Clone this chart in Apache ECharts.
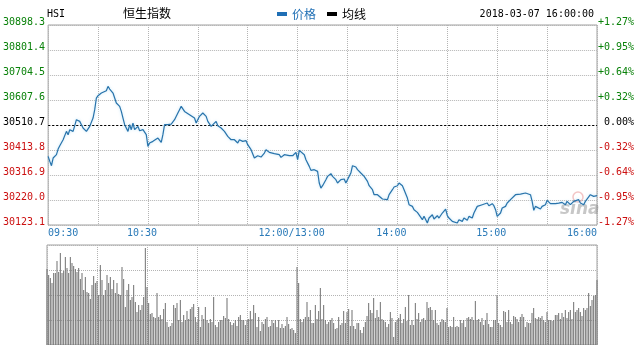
<!DOCTYPE html>
<html><head><meta charset="utf-8">
<script src="https://cdn.jsdelivr.net/npm/echarts@6/dist/echarts.min.js"></script>
<style>html,body{margin:0;padding:0;background:#fff}#c{width:639px;height:345px}</style>
</head><body><div id="c"></div>
<script>
// ---- data ----
const titleCode = 'HSI';
const titleName = '恒生指数';
const dateText = '2018-03-07 16:00:00';
const prevClose = 30510.7;
const priceMin = 30123.1;
const priceMax = 30898.3;
const priceTicks = ['30123.1','30220.0','30316.9','30413.8','30510.7','30607.6','30704.5','30801.4','30898.3'];
const pctTicks = ['-1.27%','-0.95%','-0.64%','-0.32%',' 0.00%','+0.32%','+0.64%','+0.95%','+1.27%'];
const xTickMinutes = [0, 60, 150, 210, 270, 330];
const xTickLabels = ['09:30', '10:30', '12:00/13:00', '14:00', '15:00', '16:00'];

const priceMinutes = [0,1,2,3,5,6,7,8,9,11,12,13,15,16,17,19,20,21,23,25,26,27,28,29,30,31,32,33,35,36,37,38,39,40,41,43,44,45,46,48,49,50,51,52,54,55,57,59,60,61,63,64,66,67,68,69,70,72,74,76,78,79,80,82,83,85,86,88,89,91,92,93,95,96,98,99,101,102,104,106,108,110,112,114,115,117,119,120,122,124,126,128,130,131,133,134,136,137,139,140,142,143,145,147,149,150,151,152,154,155,157,158,160,162,163,164,165,167,168,170,171,173,174,176,177,178,179,180,182,183,185,186,188,189,190,192,193,195,196,198,199,201,202,204,205,207,208,210,211,213,214,216,217,219,220,222,223,225,226,228,229,231,232,234,235,237,239,240,241,243,244,246,247,249,250,252,253,255,256,258,259,261,262,264,265,267,268,269,270,272,273,275,276,278,279,281,282,284,285,287,288,290,291,292,293,294,296,297,299,300,302,303,305,307,309,311,312,314,316,317,319,320,322,323,324,326,327,328,330];
const priceValues = [30389.1,30369.7,30352.9,30382.7,30395.6,30417.5,30430.5,30425.3,30453.7,30486.0,30473.1,30492.5,30486.0,30508.0,30531.2,30524.8,30511.9,30498.9,30486.0,30505.4,30498.9,30537.7,30570.0,30615.2,30624.3,30617.8,30634.6,30641.1,30643.6,30660.4,30650.1,30654.0,30634.6,30615.2,30595.8,30582.9,30563.5,30537.7,30511.9,30486.0,30511.9,30492.5,30518.3,30492.5,30505.4,30488.6,30492.5,30473.1,30427.9,30440.8,30447.3,30440.8,30460.2,30453.7,30443.4,30473.1,30511.9,30511.9,30514.4,30531.2,30557.1,30570.0,30582.9,30563.5,30559.7,30550.6,30550.6,30537.7,30518.3,30544.2,30550.6,30557.1,30544.2,30524.8,30505.4,30511.9,30524.8,30508.0,30498.9,30486.0,30466.6,30453.7,30453.7,30440.8,30453.7,30447.3,30449.9,30434.4,30415.0,30382.7,30391.7,30386.6,30402.1,30415.0,30404.6,30408.5,30399.5,30404.6,30395.6,30385.3,30395.6,30402.1,30391.7,30391.7,30404.6,30376.2,30412.4,30408.5,30395.6,30376.2,30350.4,30334.9,30337.5,30331.0,30285.8,30266.4,30275.4,30298.7,30311.6,30322.0,30311.6,30298.7,30285.8,30298.7,30292.2,30301.3,30285.8,30283.2,30324.5,30352.9,30347.8,30337.5,30324.5,30327.1,30311.6,30292.2,30275.4,30259.9,30240.6,30240.6,30234.1,30223.8,30217.3,30221.2,30240.6,30259.9,30270.3,30275.4,30285.8,30275.4,30259.9,30227.6,30201.8,30195.3,30182.4,30172.1,30174.0,30143.6,30156.6,30130.7,30150.1,30163.0,30146.2,30159.1,30150.1,30169.5,30185.0,30159.1,30150.1,30137.2,30143.6,30130.7,30143.6,30137.2,30150.1,30141.1,30156.6,30150.1,30169.5,30195.3,30188.9,30201.8,30195.3,30208.2,30197.9,30205.7,30197.9,30182.4,30156.6,30169.5,30188.9,30195.3,30208.2,30221.2,30223.7,30240.5,30247.0,30243.1,30249.6,30247.0,30250.9,30240.5,30214.7,30179.8,30195.3,30201.8,30185.0,30195.3,30201.8,30218.6,30205.7,30210.8,30205.7,30208.2,30210.8,30201.8,30214.7,30201.8,30214.7,30208.2,30221.2,30208.2,30201.8,30214.7,30223.7,30240.5,30244.4,30234.1,30236.7];

const volumes = [
76,70,67,62,72,72,84,73,92,72,
74,88,77,72,88,82,79,76,73,77,
66,72,55,68,53,52,46,60,69,62,
64,50,80,65,50,55,70,62,68,56,
65,52,62,51,50,78,66,38,55,61,
45,48,60,43,33,40,35,40,48,97,
58,42,31,32,28,27,52,28,30,26,
36,42,23,18,19,22,40,37,42,25,
45,23,30,25,34,26,36,38,41,28,
23,38,18,30,26,38,25,22,26,23,
48,20,18,23,25,25,29,27,47,26,
23,20,22,25,19,28,30,25,25,20,
25,26,34,26,40,32,18,28,14,23,
21,26,28,18,19,25,22,25,18,25,
17,21,17,19,28,21,16,17,15,12,
78,62,26,23,26,28,43,28,35,22,
22,40,26,34,57,26,40,25,21,23,
25,27,22,16,17,28,20,22,34,22,
33,36,19,35,19,16,22,22,15,12,
18,23,29,42,35,32,47,27,35,28,
43,26,25,23,18,21,33,27,8,23,
25,27,31,22,26,38,24,50,20,25,
20,42,26,32,23,26,27,25,43,37,
38,35,25,35,22,20,23,26,25,23,
37,18,19,18,28,18,19,18,25,22,
25,18,27,28,26,28,25,44,25,26,
23,27,20,25,32,21,18,18,25,25,
50,22,20,18,34,33,23,35,23,21,
29,28,26,23,28,31,28,18,23,22,
22,32,37,27,26,28,27,29,25,23,
33,25,25,24,25,30,30,32,26,32,
28,35,27,33,35,26,43,33,35,37,
33,29,37,35,37,52,39,45,49,50,
65];

// ---- chart ----
const MONO = 'DejaVu Sans Mono';
const CJK = 'Noto Sans CJK SC';
const GREEN = '#0a820a', RED = '#cc1010', BLUE_TXT = '#2a7ab8';
const LINE_BLUE = '#2873ab';
const GRID_GRAY = '#b4b4b4';
const BORDER = '#a0a0a0';
const midIdx = priceTicks.indexOf(priceTicks.find((t) => parseFloat(t) === prevClose));

function sideStyle(i) { return i > midIdx ? 'g' : (i === midIdx ? 'k' : 'r'); }
const labelRich = {
  g: { color: GREEN, fontFamily: MONO, fontSize: 10, padding: [0, 0, 6, 0] },
  k: { color: '#000', fontFamily: MONO, fontSize: 10, padding: [0, 0, 6, 0] },
  r: { color: RED, fontFamily: MONO, fontSize: 10, padding: [0, 0, 6, 0] }
};

const chart = echarts.init(document.getElementById('c'), null, { renderer: 'canvas' });
chart.setOption({
  animation: false,
  backgroundColor: '#fff',
  legend: {
    left: 277, top: 8, padding: 0, itemGap: 11,
    icon: 'rect', itemWidth: 10, itemHeight: 4,
    selectedMode: false,
    textStyle: { fontFamily: CJK, fontSize: 12 },
    data: [
      { name: '价格', textStyle: { color: '#1f6fb5' } },
      { name: '均线', textStyle: { color: '#000' } }
    ]
  },
  graphic: [
    { type: 'text', left: 47, top: 9, style: { text: titleCode, font: '10px "DejaVu Sans Mono"', fill: '#000' } },
    { type: 'text', left: 123, top: 7, style: { text: titleName, font: '12px "Noto Sans CJK SC"', fill: '#000' } },
    { type: 'text', right: 45, top: 9, style: { text: dateText, font: '10px "DejaVu Sans Mono"', fill: '#000' } },
    { type: 'text', left: 560, top: 201, z: 1, style: { text: 'sina', font: 'italic bold 17px "DejaVu Sans"', fill: 'rgba(130,130,130,0.45)' } },
    { type: 'circle', shape: { cx: 578, cy: 197, r: 5 }, z: 1, style: { fill: 'none', stroke: 'rgba(220,90,90,0.35)', lineWidth: 1.5 } }
  ],
  grid: [
    { left: 47, width: 550, top: 25, height: 200, show: true, borderColor: BORDER, borderWidth: 1 },
    { left: 47, width: 550, top: 245, height: 100, show: true, borderColor: BORDER, borderWidth: 1 }
  ],
  xAxis: [
    {
      type: 'value', gridIndex: 0, min: 0, max: 330, interval: 30,
      axisLine: { show: false }, axisTick: { show: false },
      splitLine: { show: true, lineStyle: { color: GRID_GRAY, type: 'dotted' } },
      axisLabel: {
        show: true, margin: 3, color: BLUE_TXT, fontFamily: MONO, fontSize: 10,
        formatter: function (v) {
          const k = xTickMinutes.indexOf(v);
          if (k < 0) return '';
          if (k === 0) return '{l|' + xTickLabels[k] + '}';
          if (k === xTickLabels.length - 1) return '{r|' + xTickLabels[k] + '}';
          return '{c|' + xTickLabels[k] + '}';
        },
        rich: {
          l: { color: BLUE_TXT, fontFamily: MONO, fontSize: 10, padding: [0, 0, 0, 30] },
          r: { color: BLUE_TXT, fontFamily: MONO, fontSize: 10, padding: [0, 30, 0, 0] },
          c: { color: BLUE_TXT, fontFamily: MONO, fontSize: 10, padding: [0, 12, 0, 0] }
        }
      }
    },
    {
      type: 'value', gridIndex: 1, min: 0, max: 330, interval: 30,
      axisLine: { show: false }, axisTick: { show: false }, axisLabel: { show: false },
      splitLine: { show: true, lineStyle: { color: GRID_GRAY, type: 'dotted' } }
    }
  ],
  yAxis: [
    {
      type: 'value', gridIndex: 0, min: 0, max: priceTicks.length - 1, interval: 1, position: 'left',
      axisLine: { show: false }, axisTick: { show: false },
      splitLine: { show: true, lineStyle: { color: GRID_GRAY, type: 'dotted' } },
      axisLabel: {
        margin: 3,
        formatter: function (v) { const i = Math.round(v); return '{' + sideStyle(i) + '|' + priceTicks[i] + '}'; },
        rich: labelRich
      }
    },
    {
      type: 'value', gridIndex: 0, min: priceMin, max: priceMax, show: false,
      splitLine: { show: false }
    },
    {
      type: 'value', gridIndex: 0, min: 0, max: pctTicks.length - 1, interval: 1, position: 'right',
      axisLine: { show: false }, axisTick: { show: false }, splitLine: { show: false },
      axisLabel: {
        margin: 1,
        formatter: function (v) { const i = Math.round(v); return '{' + sideStyle(i) + '|' + pctTicks[i] + '}'; },
        rich: labelRich
      }
    },
    {
      type: 'value', gridIndex: 1, min: 0, max: 100, interval: 25,
      axisLine: { show: false }, axisTick: { show: false }, axisLabel: { show: false },
      splitLine: { show: true, lineStyle: { color: GRID_GRAY, type: 'dotted' } }
    }
  ],
  series: [
    {
      name: '价格', type: 'line', xAxisIndex: 0, yAxisIndex: 1,
      showSymbol: false, symbol: 'none', z: 5,
      itemStyle: { color: '#1f6fb5' },
      lineStyle: { color: LINE_BLUE, width: 1.2, shadowColor: 'rgba(130,200,240,0.55)', shadowBlur: 3 },
      data: priceMinutes.map((m, i) => [m, priceValues[i]]),
      markLine: {
        silent: true, symbol: 'none', label: { show: false },
        lineStyle: { color: '#000', type: [2, 2], width: 1 },
        data: [{ yAxis: prevClose }]
      }
    },
    {
      name: '均线', type: 'line', xAxisIndex: 0, yAxisIndex: 1,
      showSymbol: false, itemStyle: { color: '#000' }, lineStyle: { color: '#000', width: 1 },
      data: []
    },
    {
      name: '成交量', type: 'bar', xAxisIndex: 1, yAxisIndex: 3,
      barWidth: 1, itemStyle: { color: '#707070' },
      data: volumes.map((v, i) => [i, v])
    }
  ]
});
</script></body></html>
